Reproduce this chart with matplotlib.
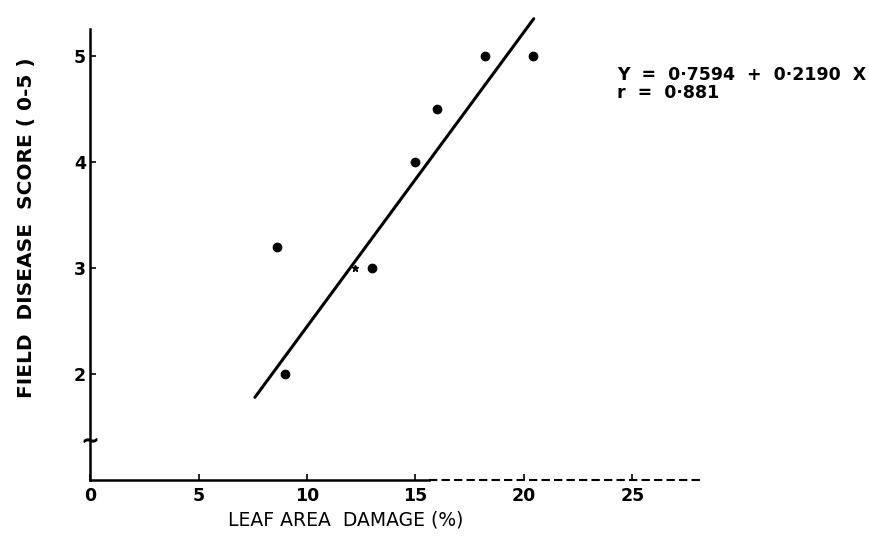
import matplotlib
matplotlib.use("Agg")
import matplotlib.pyplot as plt

# leaf area damage (%) vs field disease score
damage = [8.6, 9.0, 13.0, 15.0, 16.0, 18.2, 20.4]
score = [3.2, 2.0, 3.0, 4.0, 4.5, 5.0, 5.0]
star_x = [12.2]
star_y = [3.0]

# fitted line as drawn
fit_x = [7.6, 20.45]
fit_y = [1.78, 5.35]

xticks = [0, 5, 10, 15, 20, 25]
yticks = [2, 3, 4, 5]

fig = plt.figure(figsize=(8.69, 5.43), dpi=100)
ax = fig.add_axes([0.1036, 0.116, 0.7066, 0.83])

ax.plot(fit_x, fit_y, color="black", lw=2.2, solid_capstyle="round", clip_on=False)
ax.plot(damage, score, "o", color="black", ms=6, clip_on=False)
ax.plot(star_x, star_y, "*", color="black", ms=5)

ax.set_xlim(0, 28.3)
ax.set_ylim(1, 5.25)

ax.spines["top"].set_visible(False)
ax.spines["right"].set_visible(False)
ax.spines["left"].set_linewidth(1.8)
ax.spines["bottom"].set_linewidth(1.8)
ax.spines["bottom"].set_bounds(0, 15.6)
# the axis fades into a broken dashed line on the right
ax.plot([15.6, 28.3], [1, 1], color="black", lw=1.5, ls=(0, (4, 2)), clip_on=False)
# little break mark near the foot of the y axis
ax.plot([0], [1.38], marker=r"$\sim$", color="black", ms=9, clip_on=False)

ax.set_xticks(xticks)
ax.set_xticklabels([str(t) for t in xticks])
ax.set_yticks(yticks)
ax.tick_params(direction="in", length=4, width=1.2, labelsize=12.5, pad=5)
for lab in ax.get_xticklabels() + ax.get_yticklabels():
    lab.set_fontweight("bold")
ax.tick_params(axis="y", pad=3)

fig.text(0.03, 0.58, "FIELD  DISEASE  SCORE ( 0-5 )", rotation=90, ha="center", va="center",
         fontsize=14.5, fontweight="bold")
fig.text(0.398, 0.042, "LEAF AREA  DAMAGE (%)", ha="center", va="center", fontsize=13.5)

fig.text(0.71, 0.862, "Y  =  0·7594  +  0·2190  X", ha="left", va="center", fontsize=12.5,
         fontweight="bold")
fig.text(0.71, 0.829, "r  =  0·881", ha="left", va="center", fontsize=12.5, fontweight="bold")

fig.savefig("out.png", dpi=100)
